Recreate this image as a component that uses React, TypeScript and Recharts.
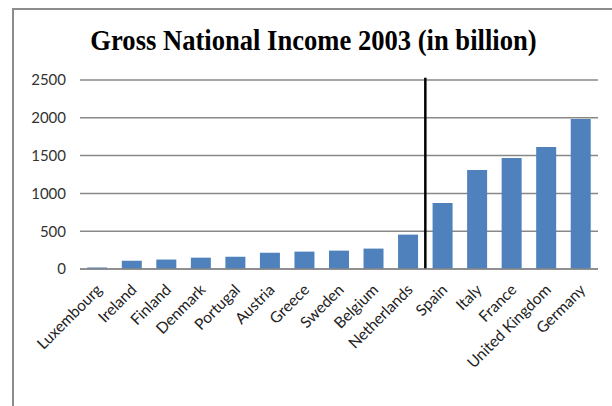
import { BarChart, Bar, XAxis, YAxis, CartesianGrid, ReferenceLine } from 'recharts';

const countries = ['Luxembourg','Ireland','Finland','Denmark','Portugal','Austria','Greece','Sweden','Belgium','Netherlands','Spain','Italy','France','United Kingdom','Germany'];
const gni = [20, 110, 125, 150, 162, 215, 230, 243, 270, 455, 873, 1310, 1468, 1614, 1985];
const yTicks = [0, 500, 1000, 1500, 2000, 2500];
// the black divider sits at the start of this category
const splitBefore = 'Spain';

const data = countries.map((c, i) => ({ country: c, gni: gni[i] }));

export default function App() {
  return (
    <div style={{position:'absolute',left:0,top:0,width:612,height:406,background:'#fff',overflow:'hidden'}}>
      <div style={{position:'absolute',left:12,top:8,width:620,height:420,borderLeft:'2px solid #8c8c8c',borderTop:'2px solid #8c8c8c'}} />
      <div style={{position:'absolute',left:0,top:23,width:627,textAlign:'center',fontFamily:'"Liberation Serif", serif',fontWeight:'bold',fontSize:30,color:'#000',transform:'scaleX(0.886)',transformOrigin:'313.5px 0',whiteSpace:'nowrap'}}>
        Gross National Income 2003 (in billion)
      </div>
      <div style={{position:'absolute',left:0,top:0}}>
        <BarChart width={612} height={406} data={data} margin={{top:80,right:14,left:20,bottom:7}} barCategoryGap="21%">
          <CartesianGrid vertical={false} stroke="#888" strokeWidth={1.5} />
          <XAxis dataKey="country" interval={0} height={130} tickLine={false}
            axisLine={{stroke:'#888',strokeWidth:1.5}}
            angle={-45} textAnchor="end" dy={6} dx={-2}
            tick={{fill:'#222',fontSize:15.5,fontFamily:'Lato, sans-serif'}} />
          <YAxis domain={[0,2500]} ticks={yTicks} width={60} tickLine={false} axisLine={false} dx={-6}
            tick={{fill:'#333',fontSize:15,fontFamily:'Lato, sans-serif'}} />
          <Bar dataKey="gni" fill="#4f81bd" isAnimationActive={false} />
          <ReferenceLine segment={[{x:splitBefore,y:0},{x:splitBefore,y:2530}]} position="start" ifOverflow="visible" stroke="#000" strokeWidth={2.5} />
        </BarChart>
      </div>
    </div>
  );
}
